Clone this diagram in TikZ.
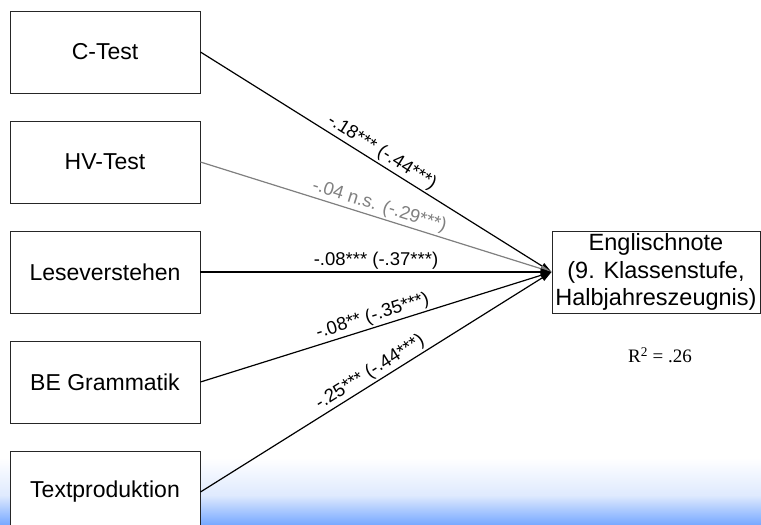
\documentclass[tikz,border=0pt]{standalone}
\usepackage{fontspec}
\setmainfont{Liberation Sans}
\newfontfamily\serifR{Liberation Serif}
\usetikzlibrary{arrows.meta}
\definecolor{gradblue}{RGB}{118,168,255}
\definecolor{midblue}{RGB}{222,233,254}
\definecolor{nsgray}{RGB}{128,128,128}
\begin{document}
\begin{tikzpicture}[x=1pt,y=-1pt,
  srcbox/.style={draw=black!85, fill=white, line width=0.9pt, minimum width=190pt,
    minimum height=82pt, inner sep=0pt, font=\fontsize{23}{27.6}\selectfont},
  tgtbox/.style={draw=black!85, fill=white, line width=0.9pt, minimum width=208pt,
    minimum height=82pt, inner sep=0pt, align=center, font=\fontsize{23.5}{27.6}\selectfont},
  pathline/.style={line width=1.2pt, -{Triangle[length=11pt,width=7pt]}},
  coef/.style={font=\fontsize{18.5}{22}\selectfont, sloped, above, inner sep=2pt, pos=0.5}]
\useasboundingbox (0,0) rectangle (761,525);
\shade[top color=white, bottom color=midblue] (0,458) rectangle (761,496);
\shade[top color=midblue, bottom color=gradblue] (0,495.5) rectangle (761,525);
\node[srcbox] (ctest) at (105,52) {C-Test};
\node[srcbox] (hvtest) at (105,162) {HV-Test};
\node[srcbox] (lese) at (105,272) {Leseverstehen};
\node[srcbox] (begram) at (105,382) {BE Grammatik};
\node[srcbox] (textprod) at (105,492) {Textproduktion};
\node[tgtbox] (target) at (656,272) {Englischnote\\(9. Klassenstufe,\\Halbjahreszeugnis)};
\node[font=\serifR\fontsize{19}{22}\selectfont] (rsq) at (660,355) {R\textsuperscript{2} = .26};
\draw[pathline] (ctest.east) -- (target.west) node[coef] {-.18*** (-.44***)};
\draw[pathline, draw=nsgray, fill=nsgray] (hvtest.east) -- (target.west) node[coef, text=nsgray] {-.04 n.s. (-.29***)};
\draw[pathline] (lese.east) -- (target.west) node[coef] {-.08*** (-.37***)};
\draw[pathline] (begram.east) -- (target.west) node[coef] {-.08** (-.35***)};
\draw[pathline] (textprod.east) -- (target.west) node[coef] {-.25*** (-.44***)};
\end{tikzpicture}
\end{document}
